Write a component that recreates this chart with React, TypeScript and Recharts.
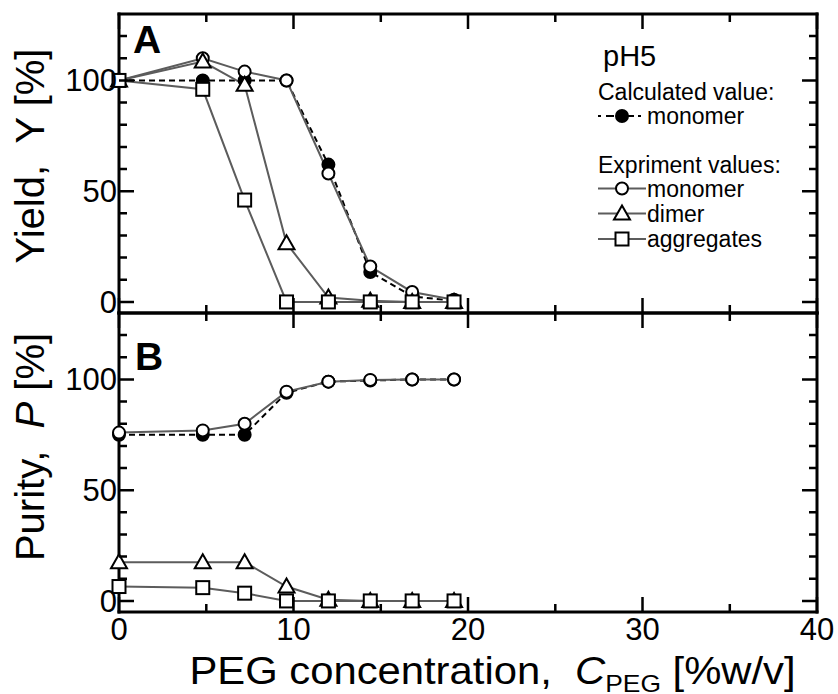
import React from 'react';
import { LineChart, Line, XAxis, YAxis } from 'recharts';

// PEG concentration [%w/v] of each run
const concentration = [0, 4.8, 7.2, 9.6, 12, 14.4, 16.8, 19.2];

// Panel A: yield Y [%]
const yieldCalcMonomer = [100, 100, 100, 100, 62, 13.5, 2.5, 0.5];
const yieldMonomer = [100, 110, 104, 100, 58, 16, 4.5, 1];
const yieldDimer = [100, 108.5, 98, 26.5, 2, 0.5, 0, 0];
const yieldAggregates = [100, 96, 46, 0, 0, 0, 0, 0];

// Panel B: purity P [%]
const purityCalcMonomer = [75, 75, 75, 94, 99, 99.5, 100, 100];
const purityMonomer = [76, 77, 80, 94.5, 99, 99.8, 100, 100];
const purityDimer = [17.5, 17.5, 17.5, 6.5, 0.5, 0, 0, 0];
const purityAggregates = [6.5, 6, 3.5, 0, 0, 0, 0, 0];

// Axis ticks
const xTicks = [0, 5, 10, 15, 20, 25, 30, 35, 40];
const xMajor = [0, 10, 20, 30, 40];
const yTicks = [0, 10, 20, 30, 40, 50, 60, 70, 80, 90, 100, 110, 120];
const yMajor = [0, 50, 100];
const X_DOMAIN: [number, number] = [0, 40];
const Y_DOMAIN: [number, number] = [-5, 130];

const FONT = "'Liberation Sans', Arial, Helvetica, sans-serif";
const GRAY = '#5c5c5c';
const W = 838;

// Plot frame geometry shared by the charts and the tick overlay
const LEFT = 119;
const RIGHT = W - 21;
const A_TOP = 14;
const A_BOTTOM = 313;
const B_TOP = 313;
const B_BOTTOM = 612;

const buildRows = (calc: number[], mono: number[], dimer: number[], agg: number[]) =>
  concentration.map((c, i) => ({ c, calc: calc[i], mono: mono[i], dimer: dimer[i], agg: agg[i] }));

const dataA = buildRows(yieldCalcMonomer, yieldMonomer, yieldDimer, yieldAggregates);
const dataB = buildRows(purityCalcMonomer, purityMonomer, purityDimer, purityAggregates);

// Tick labels on the left and bottom axes
const leftLabel = (props: any) => {
  const { x, y, payload } = props;
  if (!yMajor.includes(payload.value)) return <g />;
  return (
    <text x={x - 2} y={y + 11} textAnchor="end" fontSize={31} fontFamily={FONT} fill="#000">
      {payload.value}
    </text>
  );
};
const bottomLabel = (props: any) => {
  const { x, y, payload } = props;
  if (!xMajor.includes(payload.value)) return <g />;
  return (
    <text x={x} y={y + 28} textAnchor="middle" fontSize={31} fontFamily={FONT} fill="#000">
      {payload.value}
    </text>
  );
};

const OpenCircle = (p: any) =>
  p.cx == null ? <g key={p.index} /> : (
    <circle key={p.index} cx={p.cx} cy={p.cy} r={6} fill="#fff" stroke="#000" strokeWidth={2} />
  );
const FilledCircle = (p: any) =>
  p.cx == null ? <g key={p.index} /> : (
    <circle key={p.index} cx={p.cx} cy={p.cy} r={6} fill="#000" stroke="#000" strokeWidth={2} />
  );
const Triangle = (p: any) =>
  p.cx == null ? <g key={p.index} /> : (
    <polygon
      key={p.index}
      points={`${p.cx},${p.cy - 8} ${p.cx - 8},${p.cy + 6} ${p.cx + 8},${p.cy + 6}`}
      fill="#fff"
      stroke="#000"
      strokeWidth={2}
    />
  );
const Square = (p: any) =>
  p.cx == null ? <g key={p.index} /> : (
    <rect key={p.index} x={p.cx - 6.5} y={p.cy - 6.5} width={13} height={13} fill="#fff" stroke="#000" strokeWidth={2} />
  );

const axisLine = { stroke: '#000', strokeWidth: 3, strokeLinecap: 'square' as const };

const Panel = ({
  data,
  height,
  margin,
  bottomHeight,
  xLabels,
}: {
  data: any[];
  height: number;
  margin: any;
  bottomHeight: number;
  xLabels: boolean;
}) => (
  <LineChart width={W} height={height} data={data} margin={margin}>
    <XAxis
      dataKey="c"
      type="number"
      domain={X_DOMAIN}
      ticks={xTicks}
      interval={0}
      tickSize={0}
      tickMargin={0}
      tickLine={false}
      axisLine={axisLine}
      tick={xLabels ? bottomLabel : false}
      height={bottomHeight}
    />
    <XAxis
      xAxisId="top"
      dataKey="c"
      type="number"
      orientation="top"
      domain={X_DOMAIN}
      tickLine={false}
      axisLine={axisLine}
      tick={false}
      height={1}
    />
    <YAxis
      type="number"
      domain={Y_DOMAIN}
      ticks={yTicks}
      interval={0}
      tickSize={0}
      tickMargin={0}
      tickLine={false}
      axisLine={axisLine}
      tick={leftLabel}
      width={LEFT}
    />
    <YAxis
      yAxisId="right"
      type="number"
      orientation="right"
      domain={Y_DOMAIN}
      tickLine={false}
      axisLine={axisLine}
      tick={false}
      width={1}
    />
    <Line dataKey="calc" stroke="#000" strokeWidth={2} strokeDasharray="6 4" dot={FilledCircle} activeDot={false} isAnimationActive={false} />
    <Line dataKey="mono" stroke={GRAY} strokeWidth={2} dot={OpenCircle} activeDot={false} isAnimationActive={false} />
    <Line dataKey="dimer" stroke={GRAY} strokeWidth={2} dot={Triangle} activeDot={false} isAnimationActive={false} />
    <Line dataKey="agg" stroke={GRAY} strokeWidth={2} dot={Square} activeDot={false} isAnimationActive={false} />
  </LineChart>
);

// Inward tick marks on all four sides of a panel frame, as one path
const xPos = (v: number) => LEFT + ((v - X_DOMAIN[0]) / (X_DOMAIN[1] - X_DOMAIN[0])) * (RIGHT - LEFT);
const yPos = (v: number, top: number, bottom: number) =>
  bottom - ((v - Y_DOMAIN[0]) / (Y_DOMAIN[1] - Y_DOMAIN[0])) * (bottom - top);

const tickPath = (top: number, bottom: number) => {
  const parts: string[] = [];
  yTicks.forEach((v) => {
    const len = yMajor.includes(v) ? 15 : 8;
    const y = yPos(v, top, bottom).toFixed(1);
    parts.push(`M${LEFT},${y}h${len}`);
    parts.push(`M${RIGHT},${y}h${-len}`);
  });
  xTicks.forEach((v) => {
    const len = xMajor.includes(v) ? 15 : 8;
    const x = xPos(v).toFixed(1);
    parts.push(`M${x},${top}v${len}`);
    parts.push(`M${x},${bottom}v${-len}`);
  });
  return parts.join(' ');
};

const legendRows = [
  { label: 'monomer', kind: 'open', y: 188.5 },
  { label: 'dimer', kind: 'tri', y: 213.5 },
  { label: 'aggregates', kind: 'sq', y: 239 },
];

const LegendGlyph = ({ kind, cx, cy }: { kind: string; cx: number; cy: number }) => {
  if (kind === 'open') return <OpenCircle cx={cx} cy={cy} />;
  if (kind === 'tri') return <Triangle cx={cx} cy={cy} />;
  return <Square cx={cx} cy={cy} />;
};

const YTitle = ({ cx, cy, main, symbol, italic }: { cx: number; cy: number; main: string; symbol: string; italic: boolean }) => (
  <text
    x={cx}
    y={cy}
    transform={`rotate(-90, ${cx}, ${cy})`}
    textAnchor="middle"
    fontSize={40}
    fontFamily={FONT}
    fill="#000"
    style={{ whiteSpace: 'pre' }}
  >
    {main}
    <tspan fontStyle={italic ? 'italic' : 'normal'}>{symbol}</tspan>
    {' [%]'}
  </text>
);

export default function App() {
  return (
    <div style={{ position: 'absolute', left: 0, top: 0, width: W, height: 694, background: '#fff' }}>
      <div style={{ position: 'absolute', left: 0, top: 0 }}>
        <Panel
          data={dataA}
          height={330}
          margin={{ top: A_TOP - 1, right: W - RIGHT - 1, bottom: 330 - A_BOTTOM - 1, left: 0 }}
          bottomHeight={1}
          xLabels={false}
        />
      </div>
      <div style={{ position: 'absolute', left: 0, top: 0 }}>
        <Panel
          data={dataB}
          height={694}
          margin={{ top: B_TOP - 1, right: W - RIGHT - 1, bottom: 0, left: 0 }}
          bottomHeight={694 - B_BOTTOM}
          xLabels={true}
        />
      </div>
      <svg width={W} height={694} style={{ position: 'absolute', left: 0, top: 0, pointerEvents: 'none', zIndex: 5 }}>
        <path d={tickPath(A_TOP, A_BOTTOM)} stroke="#000" strokeWidth={2.5} fill="none" />
        <path d={tickPath(B_TOP, B_BOTTOM)} stroke="#000" strokeWidth={2.5} fill="none" />
        <YTitle cx={44} cy={156} main={'Yield,  '} symbol="Y" italic={false} />
        <YTitle cx={44} cy={447} main={'Purity,  '} symbol="P" italic={true} />
        <g transform="translate(492.5, 684) scale(1.1, 1)">
          <text x={0} y={0} textAnchor="middle" fontSize={38} fontFamily={FONT} fill="#000" style={{ whiteSpace: 'pre' }}>
            {'PEG concentration,  '}
            <tspan fontStyle="italic">C</tspan>
            <tspan fontSize={24} dy={8}>PEG</tspan>
            <tspan dy={-8}>{' [%w/v]'}</tspan>
          </text>
        </g>
        <text x={133} y={53} fontSize={39} fontWeight="bold" fontFamily={FONT} fill="#000">A</text>
        <text x={135} y={370} fontSize={39} fontWeight="bold" fontFamily={FONT} fill="#000">B</text>
        <text x={603} y={66} fontSize={29} fontFamily={FONT} fill="#000">pH5</text>
        <text x={598} y={100} fontSize={23} fontFamily={FONT} fill="#000">Calculated value:</text>
        <line x1={598} y1={116} x2={646} y2={116} stroke="#000" strokeWidth={2} strokeDasharray="3 5 8 4" />
        <FilledCircle cx={622} cy={116} />
        <text x={647} y={124} fontSize={23} fontFamily={FONT} fill="#000">monomer</text>
        <text x={598} y={173} fontSize={23} fontFamily={FONT} fill="#000">Expriment values:</text>
        {legendRows.map((r) => (
          <g key={r.label}>
            <line x1={598} y1={r.y} x2={646} y2={r.y} stroke={GRAY} strokeWidth={2} />
            <LegendGlyph kind={r.kind} cx={622} cy={r.y} />
            <text x={647} y={r.y + 8} fontSize={23} fontFamily={FONT} fill="#000">{r.label}</text>
          </g>
        ))}
      </svg>
    </div>
  );
}
